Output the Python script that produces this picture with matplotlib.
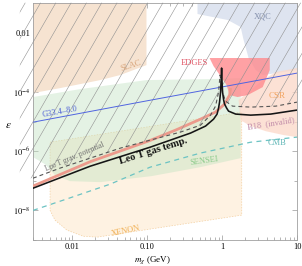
import numpy as np
import matplotlib
matplotlib.use("Agg")
import matplotlib.pyplot as plt
from matplotlib.patches import Polygon
from matplotlib.lines import Line2D

plt.rcParams['font.family'] = ['Liberation Serif', 'DejaVu Serif']
plt.rcParams['mathtext.fontset'] = 'stix'

# ---------------- data (m in GeV, epsilon) ----------------
slac_m = [0.003, 0.0069, 0.0237, 0.0438, 0.098, 0.098, 0.003]
slac_eps = [9.1e-5, 1.34e-4, 2.5e-4, 3.7e-4, 8.0e-4, 0.1, 0.1]

xqc_m = [0.47, 0.47, 1.19, 1.77, 1.94, 2.26, 2.81, 3.49, 10, 10]
xqc_eps = [0.1, 0.0425, 0.0267, 0.0155, 5.6e-3, 1.39e-3, 5.45e-4, 3.7e-4, 5.45e-4, 0.1]

csr_m = [1.66, 2.41, 3.49, 5.21, 10, 10, 6.67, 3.83, 2.41, 1.77]
csr_eps = [5.3e-5, 1.15e-4, 2.5e-4, 4.67e-4, 6.4e-4, 2.97e-6, 3.47e-6, 4.7e-6, 7.0e-6, 1.1e-5]

sensei_m = [0.003, 0.0128, 0.098, 0.702, 1.77, 1.77, 0.515, 0.114, 0.0237, 0.00938, 0.00591, 0.00434, 0.003]
sensei_eps = [6.7e-5, 1.24e-4, 2.5e-4, 2.7e-4, 2.92e-4, 5.8e-7, 2.88e-7, 1.43e-7, 8.97e-8, 9.7e-8, 1.55e-7, 3.6e-7, 6.3e-7]

xenon_m = [0.00507, 1.83, 1.83, 0.0216, 0.014, 0.00855, 0.00591, 0.00507]
xenon_eps = [2.0e-6, 2.08e-5, 6.9e-9, 1.25e-9, 1.34e-9, 2.14e-9, 4.67e-9, 1.0e-8]

edges_m = [0.681, 4.33, 4.33, 3.49, 2.20, 1.61, 1.26, 1.15, 0.955, 0.77]
edges_eps = [1.39e-3, 1.39e-3, 5.45e-4, 1.45e-4, 7.8e-5, 6.7e-5, 7.8e-5, 1.7e-4, 3.4e-4, 7.4e-4]

band_m = [0.003, 0.0174, 0.110, 0.239, 0.515, 0.818, 1.08, 1.26, 1.30]
band_eps = [6.6e-8, 4.4e-7, 2.3e-6, 5.1e-6, 1.2e-5, 2.08e-5, 3.87e-5, 7.8e-5, 1.34e-4]

gas_m = [0.003, 0.0174, 0.110, 0.379, 0.602, 0.77, 0.858, 0.898, 0.926, 0.955, 0.97, 0.986,
         1.0, 1.016, 1.05, 1.08, 1.15, 1.22, 1.52, 2.41, 4.46, 10]
gas_eps = [5.6e-8, 3.1e-7, 1.36e-6, 4.06e-6, 7.0e-6, 1.2e-5, 1.78e-5, 2.84e-5, 4.5e-5, 9.8e-5, 2.14e-4, 6.37e-4,
           2.14e-4, 9.8e-5, 5.3e-5, 3.87e-5, 2.84e-5, 2.24e-5, 1.78e-5, 1.64e-5, 1.78e-5, 2.43e-5]

grav_m = [0.003, 0.0069, 0.0174, 0.0438, 0.110, 0.279, 0.515, 0.702, 0.818, 0.898, 0.94,
          1.016, 1.11, 1.38, 2.41, 5.21, 10]
grav_eps = [1.22e-7, 2.67e-7, 5.8e-7, 1.26e-6, 2.35e-6, 4.4e-6, 7.5e-6, 1.64e-5, 3.3e-5, 9.8e-5, 3.7e-4,
            9.8e-5, 4.9e-5, 3.3e-5, 3.06e-5, 3.3e-5, 4.5e-5]

g33_m = [0.003, 0.1, 10]
g33_eps = [9.5e-6, 5.0e-5, 4.3e-4]

cmb_m = [0.003, 0.01, 0.0322, 0.110, 0.515, 2.41, 10]
cmb_eps = [1.0e-8, 2.8e-8, 7.7e-8, 2.88e-7, 8.6e-7, 2.0e-6, 2.97e-6]

xticks = [0.01, 0.1, 1, 10]
xticklabels = ["0.01", "0.10", "1", "10"]
yticks = [1e-8, 1e-6, 1e-4, 1e-2]
yticklabels = [r"$10^{-8}$", r"$10^{-6}$", r"$10^{-4}$", "0.01"]

# ---------------- figure ----------------
fig = plt.figure(figsize=(3.02, 2.66), dpi=100)
ax = fig.add_axes([33/302, 26/266, 264/302, 237/266])
ax.set_xscale('log')
ax.set_yscale('log')
ax.set_xlim(0.003, 10)
ax.set_ylim(1e-9, 1e-1)

def fill(m, e, color, alpha=1.0, z=1, ec='none', ls='-'):
    p = Polygon(np.column_stack([m, e]), closed=True, facecolor=color, alpha=alpha,
                edgecolor=ec, lw=0.5, ls=ls, zorder=z)
    ax.add_patch(p)
    return p

fill(xenon_m, xenon_eps, '#fef2e2', z=1, ec='#f3cfa0', ls=(0, (2, 2)))
fill(sensei_m, sensei_eps, '#bfe2c0', alpha=0.42, z=2)
fill(slac_m, slac_eps, '#f6e3d1', z=2)
fill(xqc_m, xqc_eps, '#dee4f0', z=2)
fill(csr_m, csr_eps, '#fcd8c8', alpha=0.75, z=3)
fill(edges_m, edges_eps, '#ff8a8e', alpha=0.8, z=4)
ax.plot(band_m, band_eps, color='#ec9a8c', lw=2.0, zorder=4.5, solid_capstyle='butt')

# hatch of region above the Leo T gravitational potential bound
hatch_poly = Polygon(np.column_stack([[0.002] + grav_m + [20, 20, 0.002],
                                      [grav_eps[0]] + grav_eps + [grav_eps[-1], 1, 1]]),
                     closed=True, transform=ax.transData)
W, H = 264.0, 237.0
dx = H / np.tan(np.radians(60))
for x0 in np.arange(-160, 280, 15.3):
    ln = Line2D([x0 / W, (x0 + dx) / W], [0, 1], transform=ax.transAxes,
                color='#909090', lw=0.4, zorder=5)
    ln.set_clip_path(hatch_poly)
    ax.add_line(ln)

ax.plot(g33_m, g33_eps, color='#5064e0', lw=0.7, zorder=6)
ax.plot(cmb_m, cmb_eps, color='#6cc3c3', lw=0.9, dashes=(4, 3.5), zorder=6)
ax.plot(grav_m, grav_eps, color='#555555', lw=0.8, dashes=(3.5, 2.8), zorder=6)
ax.plot(gas_m, gas_eps, color='#151515', lw=1.15, zorder=7)

# labels
def lab(x, y, s, c, rot=0, fs=6, **kw):
    ax.text(x, y, s, color=c, fontsize=fs, rotation=rot, ha='center', va='center',
            rotation_mode='anchor', zorder=8, **kw)

lab(0.0615, 7.4e-4, 'SLAC', '#d8a47a', rot=18)
lab(3.49, 0.034, 'XQC', '#8591ad')
lab(0.43, 9.4e-4, 'EDGES', '#e05565')
lab(5.4, 7.2e-5, 'CSR', '#f2a461', fs=6.5)
lab(4.46, 8.8e-6, 'B18  (invalid)', '#c08aa8', rot=9)
lab(5.4, 1.86e-6, 'CMB', '#5eb6b6')
lab(0.583, 4.6e-7, 'SENSEI', '#86c986', rot=8)
lab(0.0511, 1.98e-9, 'XENON', '#f0ae50', rot=12)
lab(0.0069, 2.08e-5, 'G33.4–8.0', '#4d5fd6', rot=10)
lab(0.0109, 6.3e-7, 'Leo T grav. potential', '#707070', rot=23, fs=5.5)
lab(0.121, 1.0e-6, 'Leo T gas temp.', '#111111', rot=17.5, fs=7.5, fontweight='bold')

# axes styling
ax.set_xticks(xticks)
ax.set_xticklabels(xticklabels)
ax.set_yticks(yticks)
ax.set_yticklabels(yticklabels)
ax.xaxis.set_minor_locator(matplotlib.ticker.LogLocator(base=10, subs=np.arange(2, 10)))
ax.xaxis.set_minor_formatter(matplotlib.ticker.NullFormatter())
ax.set_yticks([1e-9, 1e-7, 1e-5, 1e-3, 1e-1], minor=True)
ax.yaxis.set_minor_formatter(matplotlib.ticker.NullFormatter())
ax.tick_params(which='both', direction='in', top=True, right=True, color='#999999',
               labelsize=6, pad=2, width=0.5)
ax.tick_params(which='major', length=3.5)
ax.tick_params(which='minor', length=2)
for s in ax.spines.values():
    s.set_color('#a0a0a0')
    s.set_linewidth(0.6)
ax.set_xlabel(r'$m_\chi$ (GeV)', fontsize=6.5)
ax.xaxis.set_label_coords(0.45, -0.062)
ax.set_ylabel(r'$\epsilon$', fontsize=8, rotation=0, va='center', ha='center')
ax.yaxis.set_label_coords(-0.095, 0.485)

fig.savefig('out.png', dpi=100)
